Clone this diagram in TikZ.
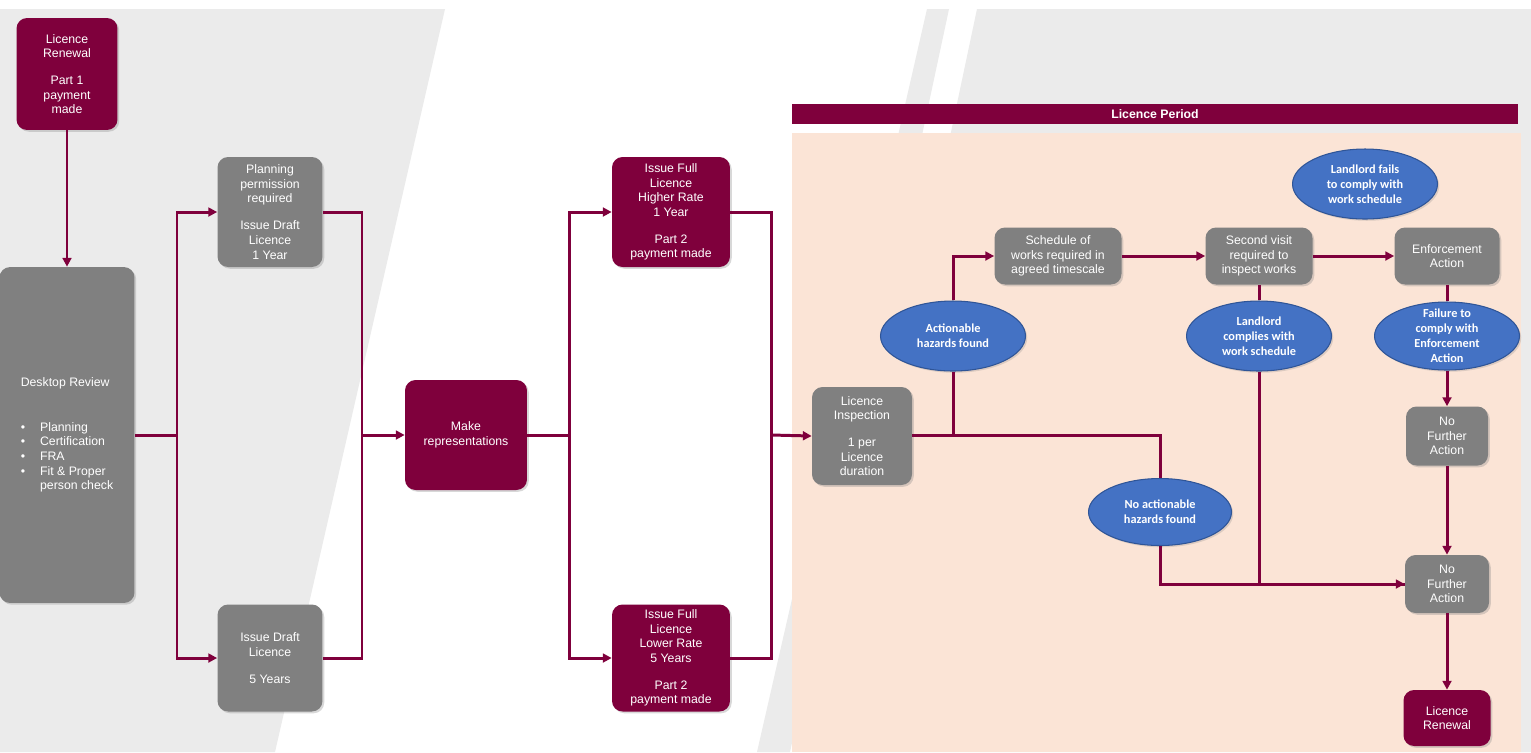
\documentclass[tikz,border=0pt]{standalone}
\usepackage{fontspec}
\setmainfont{Liberation Sans}
\newfontfamily\calibri{Carlito}
\usepackage{tikz}
\usetikzlibrary{arrows.meta, shapes.geometric, shadows}

\definecolor{wine}{HTML}{7F003C}
\definecolor{slate}{HTML}{808080}
\definecolor{hazardblue}{HTML}{4472C4}
\definecolor{hazardline}{HTML}{2F5597}
\definecolor{peach}{HTML}{FBE4D6}
\definecolor{bggrey}{HTML}{EBEBEB}

\begin{document}
\begin{tikzpicture}[x=0.02cm, y=-0.02cm, >={Triangle[length=5pt, width=5pt]},
box/.style={rectangle, rounded corners=6pt, text=white, align=center, inner sep=2pt,
  font=\fontsize{7}{8.3}\selectfont,
  drop shadow={shadow xshift=1pt, shadow yshift=-1pt, opacity=0.3}},
winebox/.style={box, fill=wine},
slatebox/.style={box, fill=slate},
hazard/.style={ellipse, fill=hazardblue, draw=hazardline, line width=0.6pt, text=white,
  align=center, inner xsep=0pt, inner ysep=-5pt, minimum width=2.9cm, minimum height=1.4cm,
  font=\calibri\bfseries\fontsize{7}{8.6}\selectfont,
  drop shadow={shadow xshift=1pt, shadow yshift=-1pt, opacity=0.25}},
link/.style={draw=wine, line width=1.7pt}]
\useasboundingbox (0,0) rectangle (1531,752);
\fill[white] (0,0) rectangle (1531,752);
\fill[bggrey] (0,9) -- (445,9) -- (275,752) -- (0,752) -- cycle;
\fill[bggrey] (927,9) -- (949,9) -- (790,752) -- (757,752) -- cycle;
\fill[bggrey] (977,9) -- (1531,9) -- (1531,752) -- (820,752) -- cycle;
\fill[peach] (792,133) rectangle (1521,752);
\node[fill=wine, minimum width=14.52cm, minimum height=0.4cm, inner sep=0pt, text=white,
  font=\bfseries\fontsize{7}{8}\selectfont] (period) at (1155,114) {Licence Period};

\node[winebox, minimum width=2.02cm, minimum height=2.24cm] (lr1) at (67,74)
  {Licence\\Renewal\\[7pt]Part 1\\payment\\made};
\node[slatebox, minimum width=2.7cm, minimum height=6.72cm, align=left] (dr) at (67,435)
  {Desktop Review\\[17pt]
   \makebox[11pt][l]{\textbullet}Planning\\
   \makebox[11pt][l]{\textbullet}Certification\\
   \makebox[11pt][l]{\textbullet}FRA\\
   \makebox[11pt][l]{\textbullet}Fit \& Proper\\
   \makebox[11pt][l]{}person check};
\node[slatebox, minimum width=2.1cm, minimum height=2.2cm] (pp) at (270,212)
  {Planning\\permission\\required\\[7pt]Issue Draft\\Licence\\1 Year};
\node[slatebox, minimum width=2.1cm, minimum height=2.14cm] (id5) at (270,658)
  {Issue Draft\\Licence\\[7pt]5 Years};
\node[winebox, minimum width=2.44cm, minimum height=2.2cm] (mr) at (466,435)
  {Make\\representations};
\node[winebox, minimum width=2.36cm, minimum height=2.2cm] (fh) at (671,212)
  {Issue Full\\Licence\\Higher Rate\\1 Year\\[7pt]Part 2\\payment made};
\node[winebox, minimum width=2.36cm, minimum height=2.14cm] (fl) at (671,658)
  {Issue Full\\Licence\\Lower Rate\\5 Years\\[7pt]Part 2\\payment made};
\node[slatebox, minimum width=2cm, minimum height=1.96cm] (li) at (862,436)
  {Licence\\Inspection\\[7pt]1 per\\Licence\\duration};
\node[slatebox, minimum width=2.54cm, minimum height=1.14cm] (sw) at (1058,256)
  {Schedule of\\works required in\\agreed timescale};
\node[slatebox, minimum width=2.14cm, minimum height=1.14cm] (sv) at (1259,256)
  {Second visit\\required to\\inspect works};
\node[slatebox, minimum width=2.1cm, minimum height=1.14cm] (ea) at (1447,256)
  {Enforcement\\Action};
\node[slatebox, minimum width=1.64cm, minimum height=1.18cm] (nf1) at (1447,436)
  {No\\Further\\Action};
\node[slatebox, minimum width=1.68cm, minimum height=1.16cm] (nf2) at (1447,584)
  {No\\Further\\Action};
\node[winebox, minimum width=1.74cm, minimum height=1.12cm] (lr2) at (1447,718)
  {Licence\\Renewal};

\node[hazard] (ahf) at (953,336) {Actionable\\hazards found};
\node[hazard] (lff) at (1365,184) {Landlord fails\\to comply with\\work schedule};
\node[hazard] (lcw) at (1259,336) {Landlord\\complies with\\work schedule};
\node[hazard, minimum height=1.36cm] (fce) at (1447,336) {Failure to\\comply with\\Enforcement\\Action};
\node[hazard, minimum width=2.86cm, minimum height=1.34cm] (nah) at (1160,512) {No actionable\\hazards found};

\coordinate (j1) at (177,435);
\coordinate (j2) at (362,435);
\coordinate (j3) at (569,435);
\coordinate (j4) at (771,435);
\coordinate (j5) at (953,435);
\coordinate (j6) at (1160,435);

\draw[link, ->] (lr1) -- (dr);
\draw[link] (dr.east) -- (j1);
\draw[link, ->] (j1) |- (pp.west);
\draw[link, ->] (j1) |- (id5.west);
\draw[link] (pp.east) -| (j2) (id5.east) -| (j2);
\draw[link, ->] (j2) -- (mr.west);
\draw[link] (mr.east) -- (j3);
\draw[link, ->] (j3) |- (fh.west);
\draw[link, ->] (j3) |- (fl.west);
\draw[link] (fh.east) -| (j4) (fl.east) -| (j4);
\draw[link, ->] (j4) -- (li.west);
\draw[link] (li.east |- j6) -- (j6) -- (nah.north);
\draw[link] (j5) -- (ahf.south);
\draw[link, ->] (ahf.north) |- (sw.west);
\draw[link, ->] (sw) -- (sv);
\draw[link, ->] (sv) -- (ea);
\draw[link] (sv) -- (lcw);
\draw[link, ->] (lcw.south) |- (nf2.west);
\draw[link] (nah.south) |- (nf2.west);
\draw[link] (ea) -- (fce);
\draw[link, ->] (fce) -- (nf1);
\draw[link, ->] (nf1) -- (nf2);
\draw[link, ->] (nf2) -- (lr2);
\end{tikzpicture}
\end{document}
